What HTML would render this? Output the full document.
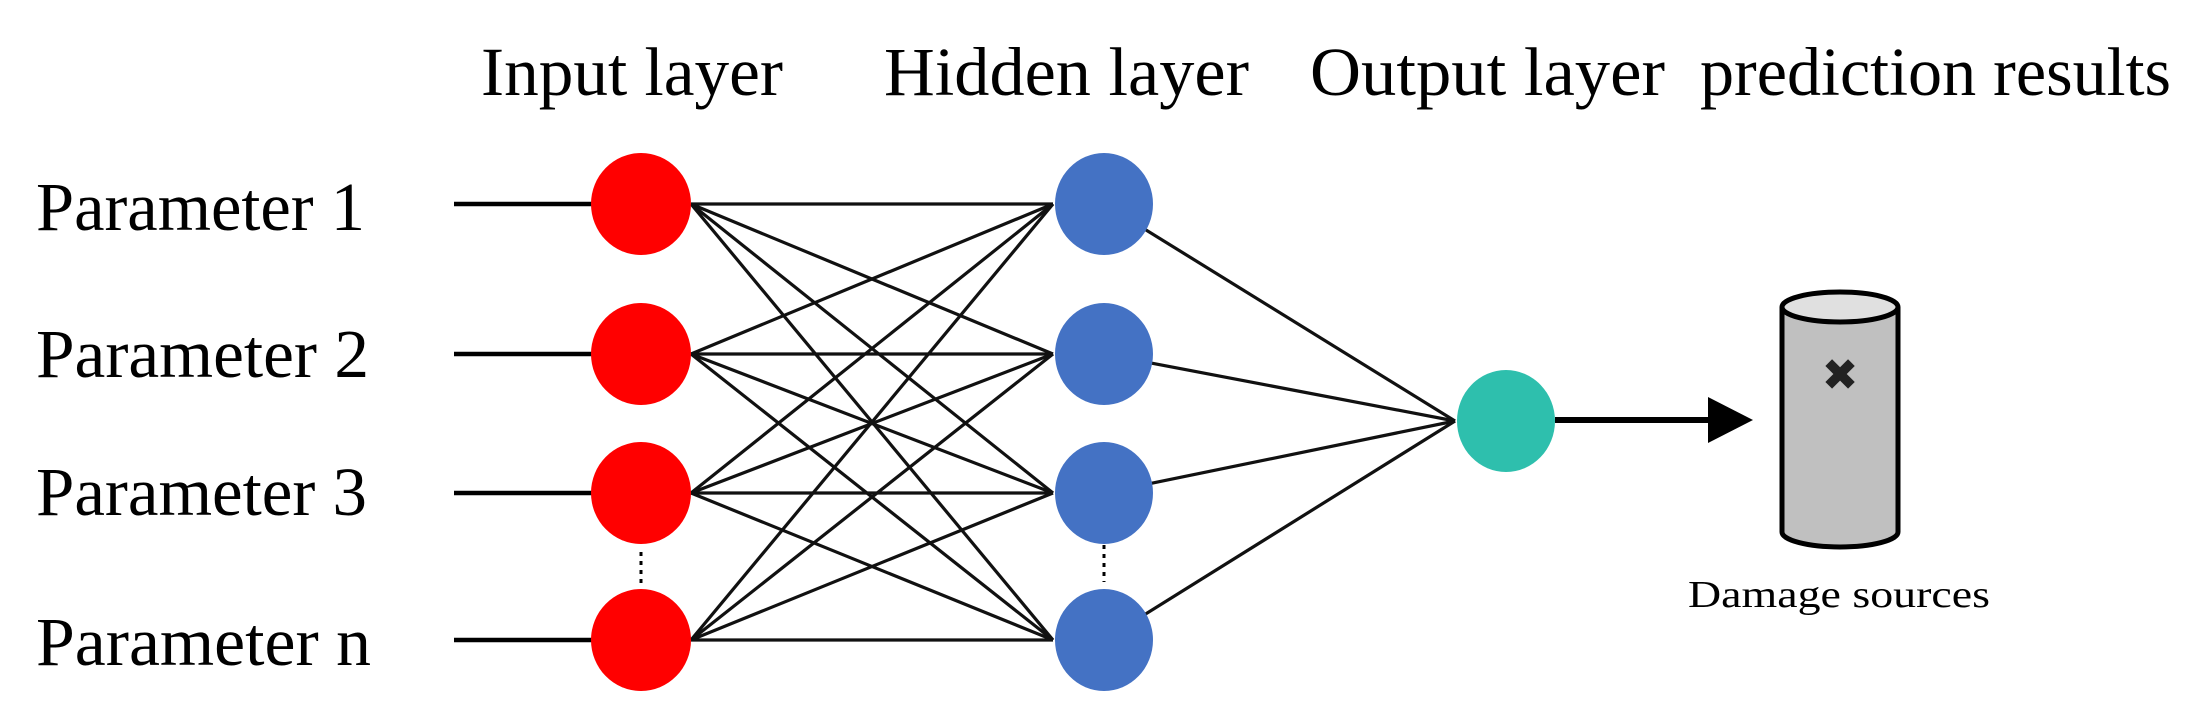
<!DOCTYPE html>
<html><head><meta charset="utf-8"><style>html,body{margin:0;padding:0;background:#fff;}svg{display:block}</style></head>
<body>
<svg width="2200" height="720" viewBox="0 0 2200 720" xmlns="http://www.w3.org/2000/svg" font-family="'Liberation Serif', serif">
<rect width="2200" height="720" fill="#fff"/>
<g font-size="69" fill="#000">
<text x="481" y="95" textLength="302" lengthAdjust="spacingAndGlyphs">Input layer</text>
<text x="884" y="95" textLength="365" lengthAdjust="spacingAndGlyphs">Hidden layer</text>
<text x="1310" y="95" textLength="355" lengthAdjust="spacingAndGlyphs">Output layer</text>
<text x="1700" y="95" textLength="471" lengthAdjust="spacingAndGlyphs">prediction results</text>
<text x="36" y="230" textLength="329" lengthAdjust="spacingAndGlyphs">Parameter 1</text>
<text x="36" y="377" textLength="333" lengthAdjust="spacingAndGlyphs">Parameter 2</text>
<text x="36" y="515" textLength="331" lengthAdjust="spacingAndGlyphs">Parameter 3</text>
<text x="36" y="665" textLength="335" lengthAdjust="spacingAndGlyphs">Parameter n</text>
</g>
<g stroke="#000" stroke-width="4.5">
<line x1="454" y1="204" x2="600" y2="204"/>
<line x1="454" y1="354" x2="600" y2="354"/>
<line x1="454" y1="493" x2="600" y2="493"/>
<line x1="454" y1="640" x2="600" y2="640"/>
</g>
<g stroke="#111" stroke-width="3.2">
<line x1="691" y1="204" x2="1053" y2="204"/><line x1="691" y1="204" x2="1053" y2="354"/><line x1="691" y1="204" x2="1053" y2="493"/><line x1="691" y1="204" x2="1053" y2="640"/>
<line x1="691" y1="354" x2="1053" y2="204"/><line x1="691" y1="354" x2="1053" y2="354"/><line x1="691" y1="354" x2="1053" y2="493"/><line x1="691" y1="354" x2="1053" y2="640"/>
<line x1="691" y1="493" x2="1053" y2="204"/><line x1="691" y1="493" x2="1053" y2="354"/><line x1="691" y1="493" x2="1053" y2="493"/><line x1="691" y1="493" x2="1053" y2="640"/>
<line x1="691" y1="640" x2="1053" y2="204"/><line x1="691" y1="640" x2="1053" y2="354"/><line x1="691" y1="640" x2="1053" y2="493"/><line x1="691" y1="640" x2="1053" y2="640"/>
<line x1="1104" y1="204" x2="1455" y2="421"/>
<line x1="1104" y1="354" x2="1455" y2="421"/>
<line x1="1104" y1="493" x2="1455" y2="421"/>
<line x1="1104" y1="640" x2="1455" y2="421"/>
</g>
<g fill="#ff0000">
<ellipse cx="641" cy="204" rx="50" ry="51"/>
<ellipse cx="641" cy="354" rx="50" ry="51"/>
<ellipse cx="641" cy="493" rx="50" ry="51"/>
<ellipse cx="641" cy="640" rx="50" ry="51"/>
</g>
<g fill="#4472c4">
<ellipse cx="1104" cy="204" rx="49" ry="51"/>
<ellipse cx="1104" cy="354" rx="49" ry="51"/>
<ellipse cx="1104" cy="493" rx="49" ry="51"/>
<ellipse cx="1104" cy="640" rx="49" ry="51"/>
</g>
<g stroke="#000" stroke-width="3" stroke-dasharray="4 5">
<line x1="641" y1="552" x2="641" y2="588"/>
<line x1="1104" y1="545" x2="1104" y2="582"/>
</g>
<ellipse cx="1506" cy="421" rx="49" ry="51" fill="#2ebfad"/>
<line x1="1555" y1="420" x2="1712" y2="420" stroke="#000" stroke-width="6"/>
<polygon points="1708,397 1753,420 1708,443" fill="#000"/>
<path d="M1782,307 L1782,532 A58,15 0 0 0 1898,532 L1898,307" fill="#c0c0c0" stroke="#000" stroke-width="5"/>
<ellipse cx="1840" cy="307" rx="58" ry="15" fill="#e0e0e0" stroke="#000" stroke-width="5"/>
<text x="1840" y="390" font-family="'DejaVu Sans', sans-serif" font-size="44" font-weight="bold" text-anchor="middle" fill="#222">✖</text>
<text x="1688" y="607" font-size="38" fill="#000" textLength="302" lengthAdjust="spacingAndGlyphs">Damage sources</text>
</svg>
</body></html>
